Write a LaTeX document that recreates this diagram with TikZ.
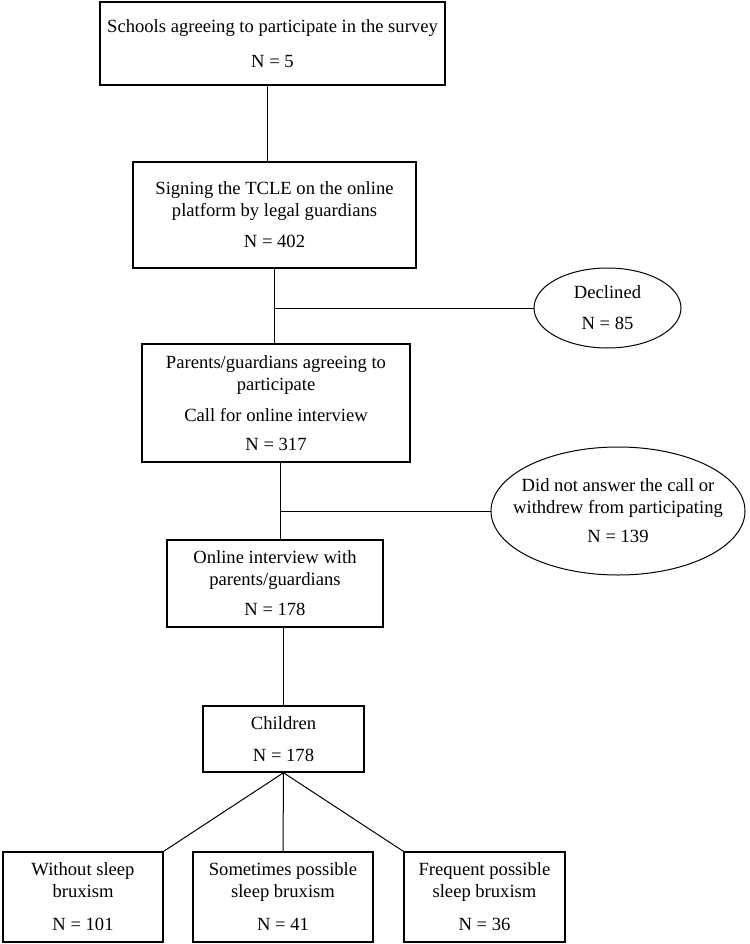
\documentclass[tikz,border=0pt]{standalone}
\usepackage{fontspec}
\setmainfont{Liberation Serif}
\usetikzlibrary{shapes.geometric}

\begin{document}
\begin{tikzpicture}[x=1pt,y=-1pt,
    box/.style={draw,line width=1.5pt,align=center,inner sep=2pt,font=\fontsize{18.6}{22}\selectfont},
    oval/.style={draw,ellipse,line width=1pt,align=center,inner sep=0pt,font=\fontsize{18.6}{22}\selectfont},
    link/.style={line width=1pt}]

\useasboundingbox (0,0) rectangle (749,944);

\node[box,minimum width=345pt,minimum height=83pt] (schools) at (272.5,43.5)
    {Schools agreeing to participate in the survey\\[13pt]N = 5};
\node[box,minimum width=283pt,minimum height=106pt] (tcle) at (274.5,215)
    {Signing the TCLE on the online\\platform by legal guardians\\[9pt]N = 402};
\node[oval,minimum width=147pt,minimum height=80pt] (declined) at (607.5,308)
    {Declined\\[9pt]N = 85};
\node[box,minimum width=268pt,minimum height=118pt] (parents) at (276,403)
    {Parents/guardians agreeing to\\participate\\[9pt]Call for online interview\\[7pt]N = 317};
\node[oval,inner xsep=-24pt,minimum width=254pt,minimum height=128pt] (withdrew) at (618,511)
    {Did not answer the call or\\withdrew from participating\\[7pt]N = 139};
\node[box,minimum width=216pt,minimum height=87pt] (interview) at (275,583.5)
    {Online interview with\\parents/guardians\\[8pt]N = 178};
\node[box,minimum width=161pt,minimum height=66pt] (children) at (283.5,739)
    {Children\\[10pt]N = 178};

\foreach \name/\x/\w/\linea/\lineb/\num in {
    nobrux/83/160/Without sleep/bruxism/101,
    somebrux/283/180/Sometimes possible/sleep bruxism/41,
    freqbrux/484.5/161/Frequent possible/sleep bruxism/36
}{
    \node[box,minimum width=\w pt,minimum height=90pt] (\name) at (\x,897)
        {\linea\\\lineb\\[11pt]N = \num};
}

\coordinate (split) at ([xshift=4pt]parents.south);

\draw[link] ([xshift=-5pt]schools.south) -- ([xshift=-5pt]schools.south |- tcle.north);
\draw[link] (tcle.south) -- (tcle.south |- parents.north);
\draw[link] (declined.west -| tcle.south) -- (declined.west);
\draw[link] (split) -- (split |- interview.north);
\draw[link] (withdrew.west -| split) -- (withdrew.west);
\draw[link] (children.north |- interview.south) -- (children.north);
\draw[link] (children.south) -- (nobrux.north east);
\draw[link] (children.south) -- (somebrux.north);
\draw[link] (children.south) -- (freqbrux.north west);

\end{tikzpicture}
\end{document}
